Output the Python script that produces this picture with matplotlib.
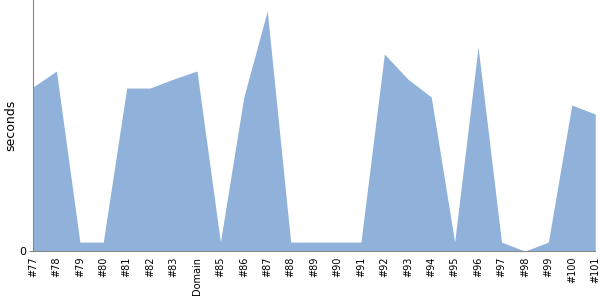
import matplotlib.pyplot as plt
import numpy as np

# Build labels and timings
labels = ["#77", "#78", "#79", "#80", "#81", "#82", "#83", "Domain", "#85",
          "#86", "#87", "#88", "#89", "#90", "#91", "#92", "#93", "#94",
          "#95", "#96", "#97", "#98", "#99", "#100", "#101"]
seconds = [164, 180, 9, 9, 163, 163, 172, 180, 9,
           154, 240, 9, 9, 9, 9, 197, 172, 154,
           9, 204, 9, 0, 9, 146, 137]

x = np.arange(len(labels))

fig = plt.figure(figsize=(6, 3), dpi=100)
ax = fig.add_axes([0.055, 0.163, 0.937, 0.837])

ax.fill_between(x, seconds, 0, color="#8fb1da", linewidth=0)

ax.set_xlim(x[0], x[-1])
ax.set_ylim(0, 251)
ax.set_xticks(x)
ax.set_xticklabels(labels, rotation=90, fontsize=7)
ax.set_yticks([0])
ax.set_yticklabels(["0"], fontsize=8)
ax.set_ylabel("seconds", fontsize=9, labelpad=1)
ax.tick_params(axis="x", length=0, pad=4)
ax.tick_params(axis="y", length=3, color="#888888", pad=2)

for side in ["top", "right"]:
    ax.spines[side].set_visible(False)
for side in ["left", "bottom"]:
    ax.spines[side].set_color("#888888")

fig.savefig("out.png", dpi=100)
